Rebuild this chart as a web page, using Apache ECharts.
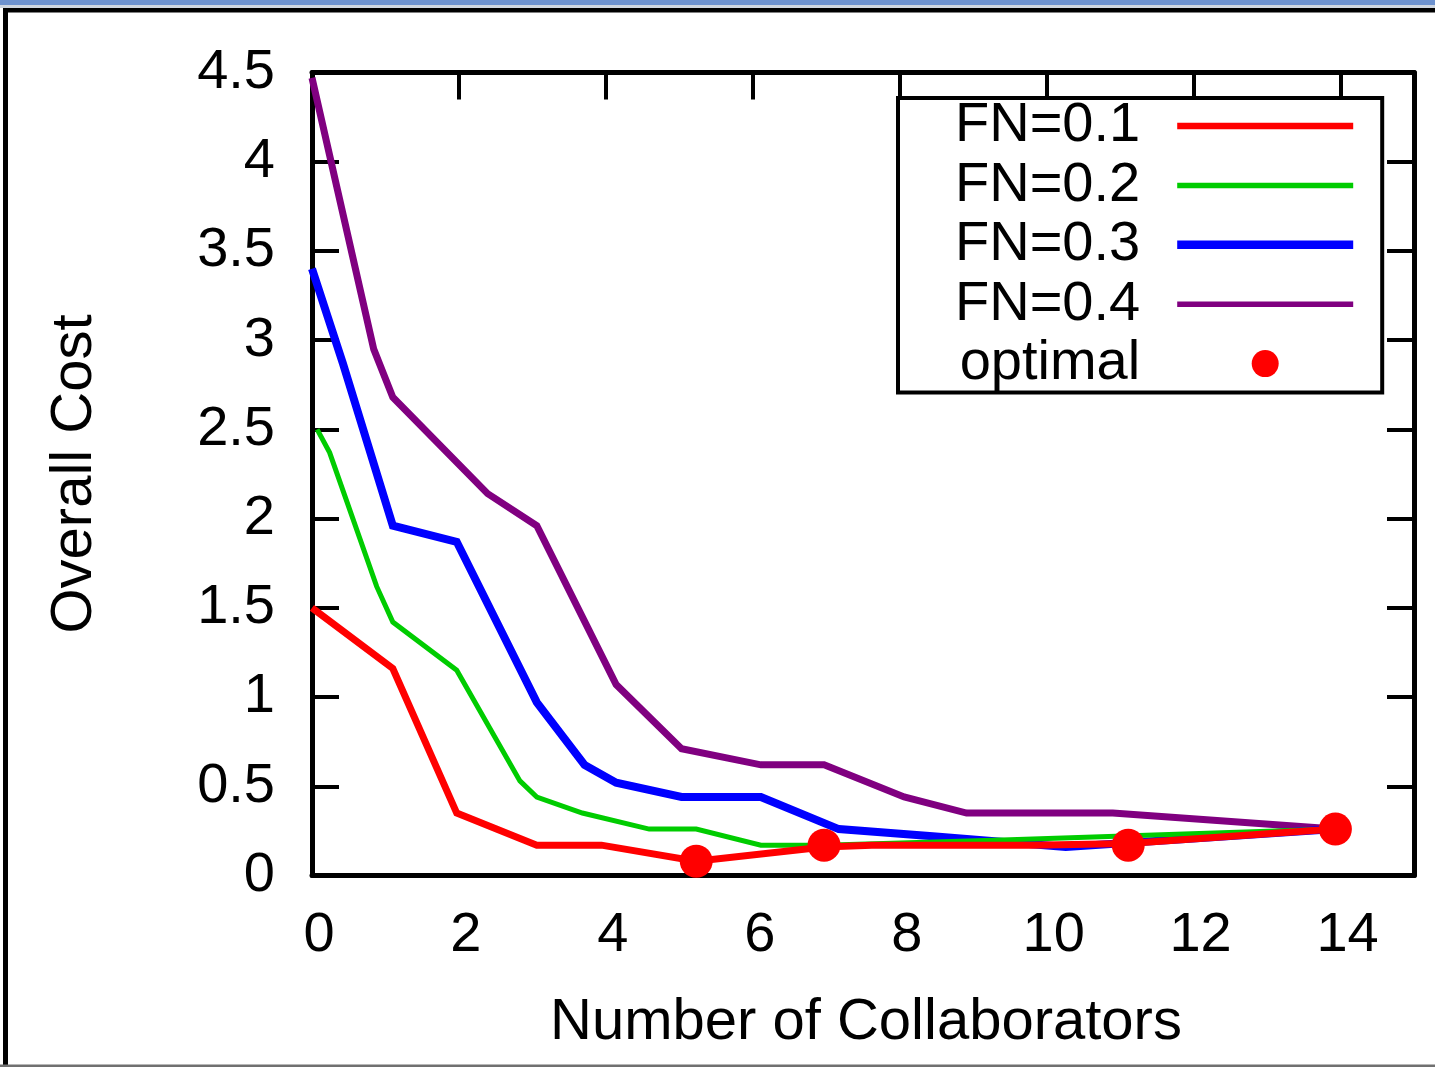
<!DOCTYPE html>
<html>
<head>
<meta charset="utf-8">
<script src="https://cdn.jsdelivr.net/npm/echarts@6/dist/echarts.min.js"></script>
<style>
html,body{margin:0;padding:0;background:#fff;}
#chart{width:1435px;height:1067px;}
</style>
</head>
<body>
<div id="chart"></div>
<script>
// ---- data ----
const seriesNames = ['FN=0.1', 'FN=0.2', 'FN=0.3', 'FN=0.4', 'optimal'];

const fn01X = [0, 1.10, 1.97, 3.06, 3.94, 5.23, 6.97, 7.62, 9.80, 11.11, 13.93];
const fn01Y = [1.50, 1.16, 0.35, 0.17, 0.17, 0.08, 0.16, 0.17, 0.17, 0.18, 0.26];

const fn02X = [0.07, 0.24, 0.88, 1.10, 1.97, 2.83, 3.06, 3.68, 4.59, 5.23, 6.11, 6.97, 9.50, 13.93];
const fn02Y = [2.50, 2.37, 1.62, 1.42, 1.15, 0.53, 0.44, 0.35, 0.26, 0.26, 0.17, 0.17, 0.20, 0.26];

const fn03X = [0, 0.42, 1.10, 1.97, 3.06, 3.71, 4.14, 5.03, 6.11, 7.17, 8.45, 10.26, 13.93];
const fn03Y = [3.40, 2.87, 1.96, 1.87, 0.97, 0.62, 0.52, 0.44, 0.44, 0.26, 0.22, 0.16, 0.26];

const fn04X = [0, 0.84, 1.10, 2.39, 3.06, 4.14, 5.03, 6.11, 6.97, 8.06, 8.91, 10.90, 13.93];
const fn04Y = [4.47, 2.95, 2.68, 2.14, 1.96, 1.07, 0.71, 0.62, 0.62, 0.44, 0.35, 0.35, 0.26];

const optimalX = [5.23, 6.97, 11.11, 13.93];
const optimalY = [0.08, 0.17, 0.17, 0.26];

const xMin = 0, xMax = 15, xStep = 2;
const yMin = 0, yMax = 4.5, yStep = 0.5;
const xTitle = 'Number of Collaborators';
const yTitle = 'Overall Cost';

// ---- build ----
function pairs(xs, ys) { return xs.map((x, i) => [x, ys[i]]); }
const FONT = 'Liberation Sans, Arial, Helvetica, sans-serif';
const colors = ['#ff0000', '#00cc00', '#0000ff', '#800080', '#ff0000'];
const widths = [7, 5, 8, 7];

function lineIcon(h) {
  return 'path://M0,0 M0,' + (13.5 - h / 2) + ' L176,' + (13.5 - h / 2) + ' L176,' + (13.5 + h / 2) + ' L0,' + (13.5 + h / 2) + ' Z M176,27';
}

const chart = echarts.init(document.getElementById('chart'), null, {renderer: 'canvas'});

const axisLineStyle = {color: '#000', width: 5};
const tickStyle = {color: '#000', width: 4};

const option = {
  animation: false,
  backgroundColor: '#fff',
  textStyle: {fontFamily: FONT},
  grid: {left: 312, right: 21, top: 72.5, bottom: 191.5, containLabel: false},
  xAxis: [
    {
      type: 'value', position: 'bottom', min: xMin, max: xMax, interval: xStep,
      name: xTitle, nameLocation: 'middle', nameGap: 118,
      nameTextStyle: {fontSize: 58, color: '#000', fontFamily: FONT, padding: [0, 0, 0, 6]},
      axisLine: {show: true, onZero: false, lineStyle: axisLineStyle},
      axisTick: {show: false},
      splitLine: {show: false},
      axisLabel: {fontSize: 56, color: '#000', margin: 32, fontFamily: FONT,
        showMaxLabel: false, padding: [0, 0, 0, 14]}
    },
    {
      type: 'value', position: 'top', min: xMin, max: xMax, interval: xStep,
      axisLine: {show: true, onZero: false, lineStyle: axisLineStyle},
      axisTick: {show: true, inside: true, length: 27, lineStyle: tickStyle},
      axisLabel: {show: false},
      splitLine: {show: false}
    }
  ],
  yAxis: [
    {
      type: 'value', position: 'left', min: yMin, max: yMax, interval: yStep,
      name: yTitle, nameLocation: 'middle', nameGap: 208,
      nameTextStyle: {fontSize: 58, color: '#000', fontFamily: FONT},
      axisLine: {show: true, onZero: false, lineStyle: axisLineStyle},
      axisTick: {show: true, inside: true, length: 27, lineStyle: tickStyle},
      splitLine: {show: false},
      axisLabel: {fontSize: 56, color: '#000', margin: 37, fontFamily: FONT}
    },
    {
      type: 'value', position: 'right', min: yMin, max: yMax, interval: yStep,
      axisLine: {show: true, onZero: false, lineStyle: axisLineStyle},
      axisTick: {show: true, inside: true, length: 27, lineStyle: tickStyle},
      axisLabel: {show: false},
      splitLine: {show: false}
    }
  ],
  legend: {
    orient: 'vertical', left: 898, top: 98, align: 'right',
    padding: [0, 29, 1, 57],
    itemGap: 3.4, itemWidth: 176, itemHeight: 27,
    backgroundColor: '#fff', borderColor: '#000', borderWidth: 4,
    selectedMode: false,
    textStyle: {fontSize: 56, color: '#000', fontFamily: FONT, lineHeight: 50, padding: [0, 32, 0, 0]},
    data: [
      {name: seriesNames[0], icon: lineIcon(6.5)},
      {name: seriesNames[1], icon: lineIcon(5.5)},
      {name: seriesNames[2], icon: lineIcon(8.5)},
      {name: seriesNames[3], icon: lineIcon(5.5)},
      {name: seriesNames[4], icon: 'circle'}
    ]
  },
  series: [
    {name: seriesNames[3], type: 'line', data: pairs(fn04X, fn04Y), symbol: 'none', z: 2,
     itemStyle: {color: colors[3]}, lineStyle: {color: colors[3], width: widths[3], join: 'miter'}},
    {name: seriesNames[2], type: 'line', data: pairs(fn03X, fn03Y), symbol: 'none', z: 3,
     itemStyle: {color: colors[2]}, lineStyle: {color: colors[2], width: widths[2], join: 'miter'}},
    {name: seriesNames[1], type: 'line', data: pairs(fn02X, fn02Y), symbol: 'none', z: 4,
     itemStyle: {color: colors[1]}, lineStyle: {color: colors[1], width: widths[1], join: 'miter'}},
    {name: seriesNames[0], type: 'line', data: pairs(fn01X, fn01Y), symbol: 'none', z: 5,
     itemStyle: {color: colors[0]}, lineStyle: {color: colors[0], width: widths[0], join: 'miter'}},
    {name: seriesNames[4], type: 'scatter', data: pairs(optimalX, optimalY), symbol: 'circle',
     symbolSize: 33, z: 6, itemStyle: {color: colors[4], opacity: 1}}
  ],
  graphic: [
    {type: 'rect', silent: true, z: 100, shape: {x: 0, y: 0, width: 1435, height: 5}, style: {fill: '#6d92cf'}},
    {type: 'rect', silent: true, z: 100, shape: {x: 0, y: 5, width: 1435, height: 3}, style: {fill: '#cfd6e0'}},
    {type: 'rect', silent: true, z: 100, shape: {x: 3, y: 8, width: 1432, height: 4.5}, style: {fill: '#000'}},
    {type: 'rect', silent: true, z: 100, shape: {x: 3, y: 8, width: 5, height: 1057}, style: {fill: '#000'}},
    {type: 'rect', silent: true, z: 100, shape: {x: 0, y: 1064.5, width: 1435, height: 2.5}, style: {fill: '#707070'}}
  ]
};
chart.setOption(option);
</script>
</body>
</html>
